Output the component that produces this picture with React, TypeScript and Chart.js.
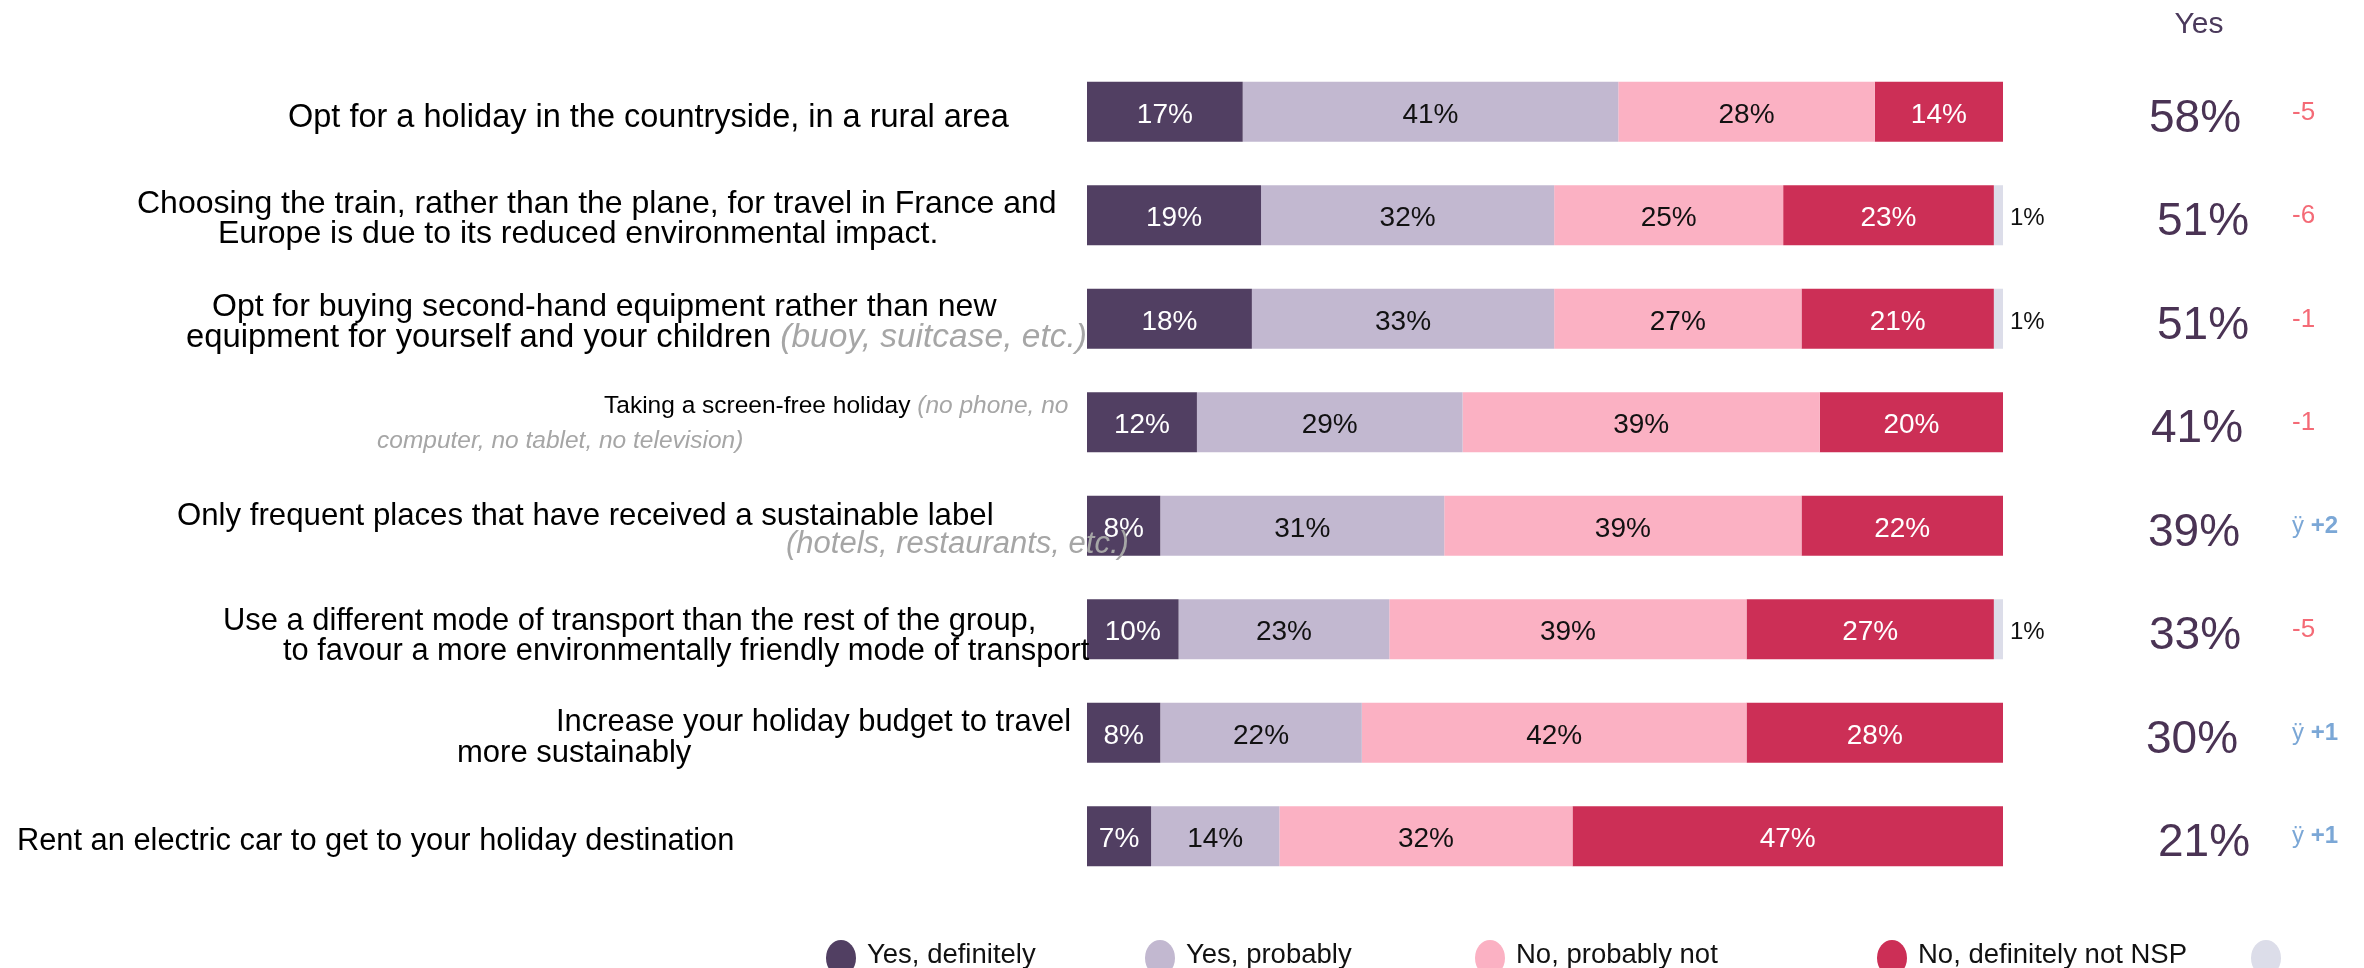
import { useEffect, useRef } from "react";
import { Chart, registerables } from "chart.js";

Chart.register(...registerables);

// ---------- DATA ----------
const categories = [
  "Opt for a holiday in the countryside, in a rural area",
  "Choosing the train, rather than the plane, for travel in France and Europe is due to its reduced environmental impact.",
  "Opt for buying second-hand equipment rather than new equipment for yourself and your children (buoy, suitcase, etc.)",
  "Taking a screen-free holiday (no phone, no computer, no tablet, no television)",
  "Only frequent places that have received a sustainable label (hotels, restaurants, etc.)",
  "Use a different mode of transport than the rest of the group, to favour a more environmentally friendly mode of transport",
  "Increase your holiday budget to travel more sustainably",
  "Rent an electric car to get to your holiday destination",
];

// each line: [normal text, muted italic text]
const categoryLines: string[][][] = [
  [["Opt for a holiday in the countryside, in a rural area", ""]],
  [
    ["Choosing the train, rather than the plane, for travel in France and", ""],
    ["Europe is due to its reduced environmental impact.", ""],
  ],
  [
    ["Opt for buying second-hand equipment rather than new", ""],
    ["equipment for yourself and your children ", "(buoy, suitcase, etc.)"],
  ],
  [
    ["Taking a screen-free holiday ", "(no phone, no"],
    ["", "computer, no tablet, no television)"],
  ],
  [
    ["Only frequent places that have received a sustainable label", ""],
    ["", "(hotels, restaurants, etc.)"],
  ],
  [
    ["Use a different mode of transport than the rest of the group,", ""],
    ["to favour a more environmentally friendly mode of transport", ""],
  ],
  [
    ["Increase your holiday budget to travel", ""],
    ["more sustainably", ""],
  ],
  [["Rent an electric car to get to your holiday destination", ""]],
];

const yesDefinitely = [17, 19, 18, 12, 8, 10, 8, 7];
const yesProbably = [41, 32, 33, 29, 31, 23, 22, 14];
const noProbablyNot = [28, 25, 27, 39, 39, 39, 42, 32];
const noDefinitelyNot = [14, 23, 21, 20, 22, 27, 28, 47];
const nsp = [0, 1, 1, 0, 0, 1, 0, 0];

const yesTotals = [58, 51, 51, 41, 39, 33, 30, 21];
const evolution = ["-5", "-6", "-1", "-1", "+2", "-5", "+1", "+1"];

const seriesNames = [
  "Yes, definitely",
  "Yes, probably",
  "No, probably not",
  "No, definitely not NSP",
  "",
];
const columnHeader = "Yes";

// ---------- STYLE / LAYOUT ----------
const seriesColors = ["#513f62", "#c2b8d0", "#fbb1c3", "#cc2f56", "#dcdde9"];
const labelColors = ["#ffffff", "#111111", "#111111", "#ffffff", "#111111"];
const FONT = "'Liberation Sans', Arial, Helvetica, sans-serif";

// per row line anchors: left x, baseline offset from bar centre, size, muted size
const labelLayout = [
  [{ x: 288, dy: 15, s: 32.5, ms: 32.5 }],
  [
    { x: 137, dy: -2, s: 32, ms: 32 },
    { x: 218, dy: 28, s: 32, ms: 32 },
  ],
  [
    { x: 212, dy: -3, s: 32, ms: 32 },
    { x: 186, dy: 28, s: 32.8, ms: 33.5 },
  ],
  [
    { x: 604, dy: -9, s: 24.5, ms: 24.5 },
    { x: 377, dy: 26, s: 24.5, ms: 24.5 },
  ],
  [
    { x: 177, dy: -1, s: 31.2, ms: 31.2 },
    { x: 786, dy: 27, s: 31, ms: 31 },
  ],
  [
    { x: 223, dy: 1, s: 30.9, ms: 30.9 },
    { x: 283, dy: 31, s: 30.8, ms: 30.8 },
  ],
  [
    { x: 556, dy: -2, s: 30.9, ms: 30.9 },
    { x: 457, dy: 29, s: 31, ms: 31 },
  ],
  [{ x: 17, dy: 14, s: 30.8, ms: 30.8 }],
];
const totalsX = [2195, 2203, 2203, 2197, 2194, 2195, 2192, 2204];
const legendX = [841, 1160, 1490, 1892, 2266];

const overlayPlugin = {
  id: "overlay",
  afterDatasetsDraw(chart: any) {
    const ctx = chart.ctx as CanvasRenderingContext2D;
    const yScale = chart.scales.y;
    ctx.save();

    // segment value labels
    chart.data.datasets.forEach((ds: any, di: number) => {
      const meta = chart.getDatasetMeta(di);
      meta.data.forEach((el: any, i: number) => {
        const v = ds.data[i];
        if (!v) return;
        ctx.textBaseline = "alphabetic";
        if (di === 4) {
          ctx.font = `24px ${FONT}`;
          ctx.fillStyle = "#111111";
          ctx.textAlign = "left";
          ctx.fillText(`${v}%`, el.x + 7, el.y + 10);
        } else {
          ctx.font = `28px ${FONT}`;
          ctx.fillStyle = labelColors[di];
          ctx.textAlign = "center";
          ctx.fillText(`${v}%`, (el.x + el.base) / 2, el.y + 11);
        }
      });
    });

    // category labels
    categoryLines.forEach((lines, r) => {
      const cy = yScale.getPixelForValue(r);
      const lay = labelLayout[r];
      lines.forEach((seg, li) => {
        const pos = lay[li];
        let x = pos.x;
        const y = cy + pos.dy;
        ctx.textAlign = "left";
        ctx.textBaseline = "alphabetic";
        if (seg[0]) {
          ctx.font = `${pos.s}px ${FONT}`;
          ctx.fillStyle = "#000000";
          ctx.fillText(seg[0], x, y);
          x += ctx.measureText(seg[0]).width;
        }
        if (seg[1]) {
          ctx.font = `italic ${pos.ms}px ${FONT}`;
          ctx.fillStyle = "#a6a6a6";
          ctx.fillText(seg[1], x, y);
        }
      });
    });

    // right column: header, totals, evolution
    ctx.textAlign = "center";
    ctx.font = `30px ${FONT}`;
    ctx.fillStyle = "#4b3a5c";
    ctx.fillText(columnHeader, 2199, 33);
    yesTotals.forEach((t, r) => {
      const cy = yScale.getPixelForValue(r);
      ctx.textAlign = "center";
      ctx.font = `46px ${FONT}`;
      ctx.fillStyle = "#4a3354";
      ctx.fillText(`${t}%`, totalsX[r], cy + 20);
      const ev = evolution[r];
      ctx.textAlign = "left";
      if (ev.startsWith("-")) {
        ctx.font = `26px ${FONT}`;
        ctx.fillStyle = "#f46a76";
        ctx.fillText(ev, 2292, cy + 8);
      } else {
        ctx.fillStyle = "#7ba7d6";
        ctx.font = `24px ${FONT}`;
        ctx.fillText("ÿ ", 2292, cy + 7);
        const w = ctx.measureText("ÿ ").width;
        ctx.font = `bold 24px ${FONT}`;
        ctx.fillText(ev, 2292 + w, cy + 7);
      }
    });

    // legend
    chart.data.datasets.forEach((ds: any, di: number) => {
      const cx = legendX[di];
      ctx.beginPath();
      ctx.ellipse(cx, 958, 15, 18, 0, 0, Math.PI * 2);
      ctx.fillStyle = ds.backgroundColor;
      ctx.fill();
      if (ds.label) {
        ctx.font = `27.5px ${FONT}`;
        ctx.fillStyle = "#111111";
        ctx.textAlign = "left";
        ctx.fillText(ds.label, cx + 26, 963);
      }
    });

    ctx.restore();
  },
};

export default function App() {
  const ref = useRef<HTMLCanvasElement>(null);
  useEffect(() => {
    document.body.style.margin = "0";
    const canvas = ref.current!;
    const series = [yesDefinitely, yesProbably, noProbablyNot, noDefinitelyNot, nsp];
    const chart = new Chart(canvas, {
      type: "bar",
      data: {
        labels: categories,
        datasets: series.map((vals, i) => ({
          label: seriesNames[i],
          data: vals,
          backgroundColor: seriesColors[i],
          borderWidth: 0,
          categoryPercentage: 1,
          barPercentage: 0.58,
        })),
      },
      options: {
        indexAxis: "y",
        responsive: false,
        animation: false,
        layout: { padding: { left: 1087, right: 361, top: 60, bottom: 80 } },
        scales: {
          x: { stacked: true, min: 0, max: 100, display: false },
          y: { stacked: true, display: false },
        },
        plugins: { legend: { display: false }, tooltip: { enabled: false } },
      },
      plugins: [overlayPlugin],
    } as any);
    return () => chart.destroy();
  }, []);
  return (
    <div style={{ width: 2364, height: 968 }}>
      <canvas ref={ref} width={2364} height={968} style={{ display: "block" }} />
    </div>
  );
}
